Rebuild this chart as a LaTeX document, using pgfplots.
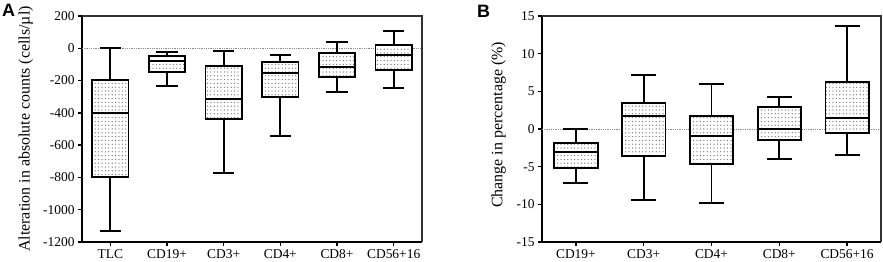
\documentclass[border=0pt]{standalone}
\usepackage{fontspec}
\setmainfont{Liberation Serif}
\newfontfamily\panelfont{Liberation Sans}
\usepackage{pgfplots}
\pgfplotsset{compat=1.18}
\usetikzlibrary{patterns}

\pgfdeclarepatternformonly{mydots}{\pgfqpoint{-1bp}{-1bp}}{\pgfqpoint{1bp}{1bp}}{\pgfqpoint{3.4bp}{3.8bp}}{%
  \pgfpathcircle{\pgfpointorigin}{0.62bp}\pgfusepath{fill}}

\pgfplotsset{
  panel/.style={
    scale only axis, height=226bp,
    axis lines*=left,
    axis line style={line width=1.8bp, black},
    tick align=outside, major tick length=4bp,
    tick style={line width=1.5bp, black},
    /pgf/number format/assume math mode=true,
    /pgf/number format/1000 sep={},
    tick label style={font=\fontsize{13.5}{15}\selectfont},
    label style={font=\fontsize{16}{18}\selectfont},
    clip=false,
  },
  bx/.style={black, line width=1.8bp, solid, mark=none, line cap=rect},
  boxfill/.style={fill=white, postaction={pattern=mydots, pattern color=black!60}},
}

% position, lower whisker, lower quartile, median, upper quartile, upper whisker
\newcommand\bxp[6]{%
  \pgfmathsetmacro\xl{#1-0.32}%
  \pgfmathsetmacro\xr{#1+0.32}%
  \pgfmathsetmacro\cl{#1-0.17}%
  \pgfmathsetmacro\cR{#1+0.17}%
  \edef\bxtmp{%
    \noexpand\addplot[bx] coordinates {(#1,#2) (#1,#3)};
    \noexpand\addplot[bx] coordinates {(#1,#5) (#1,#6)};
    \noexpand\addplot[bx] coordinates {(\cl,#2) (\cR,#2)};
    \noexpand\addplot[bx] coordinates {(\cl,#6) (\cR,#6)};
    \noexpand\addplot[bx, boxfill] coordinates {(\xl,#3) (\xr,#3) (\xr,#5) (\xl,#5) (\xl,#3)};
    \noexpand\addplot[bx] coordinates {(\xl,#4) (\xr,#4)};
  }\bxtmp}

\begin{document}
\begin{tikzpicture}
\useasboundingbox (0bp,0bp) rectangle (883bp,262bp);
\node[anchor=north west, inner sep=0pt] at (2bp,258bp) {\panelfont\bfseries\fontsize{18}{20}\selectfont A};
\node[anchor=north west, inner sep=0pt] at (477bp,257bp) {\panelfont\bfseries\fontsize{18}{20}\selectfont B};

\begin{axis}[panel,
  at={(82bp,20bp)}, anchor=south west, width=340bp,
  xmin=-0.5, xmax=5.5, ymin=-1200, ymax=200,
  ytick={-1200,-1000,-800,-600,-400,-200,0,200},
  xtick={0,1,2,3,4,5}, xticklabels={TLC,CD19+,CD3+,CD4+,CD8+,CD56+16},
  ylabel={Alteration in absolute counts (cells/µl)},
  ylabel style={at={(axis description cs:-0.165,0.5)}, anchor=center},
]
\addplot[densely dotted, black!45, line width=0.8bp, mark=none] coordinates {(-0.5,0) (5.5,0)};
\bxp{0}{-1130}{-795}{-400}{-195}{0}
\bxp{1}{-234}{-147}{-81}{-46}{-23}
\bxp{2}{-771}{-436}{-316}{-108}{-19}
\bxp{3}{-545}{-300}{-155}{-87}{-42}
\bxp{4}{-269}{-180}{-116}{-29}{39}
\bxp{5}{-246}{-135}{-42}{18}{105}
\draw[black!80, line width=1.2bp] (rel axis cs:0,1) -- (rel axis cs:1,1) -- (rel axis cs:1,0);
\end{axis}

\begin{axis}[panel,
  at={(542bp,20bp)}, anchor=south west, width=339bp,
  xmin=-0.5, xmax=4.5, ymin=-15, ymax=15,
  ytick={-15,-10,-5,0,5,10,15},
  xtick={0,1,2,3,4}, xticklabels={CD19+,CD3+,CD4+,CD8+,CD56+16},
  ylabel={Change in percentage (\%)},
  ylabel style={at={(axis description cs:-0.128,0.518)}, anchor=center},
]
\addplot[densely dotted, black!45, line width=0.8bp, mark=none] coordinates {(-0.5,0) (4.5,0)};
\bxp{0}{-7.12}{-5.18}{-3.05}{-1.86}{0}
\bxp{1}{-9.43}{-3.58}{1.68}{3.41}{7.21}
\bxp{2}{-9.78}{-4.69}{-0.88}{1.77}{5.93}
\bxp{3}{-3.94}{-1.5}{0}{2.88}{4.29}
\bxp{4}{-3.5}{-0.49}{1.5}{6.24}{13.7}
\draw[black!80, line width=1.2bp] (rel axis cs:0,1) -- (rel axis cs:1,1) -- (rel axis cs:1,0);
\end{axis}
\end{tikzpicture}
\end{document}
